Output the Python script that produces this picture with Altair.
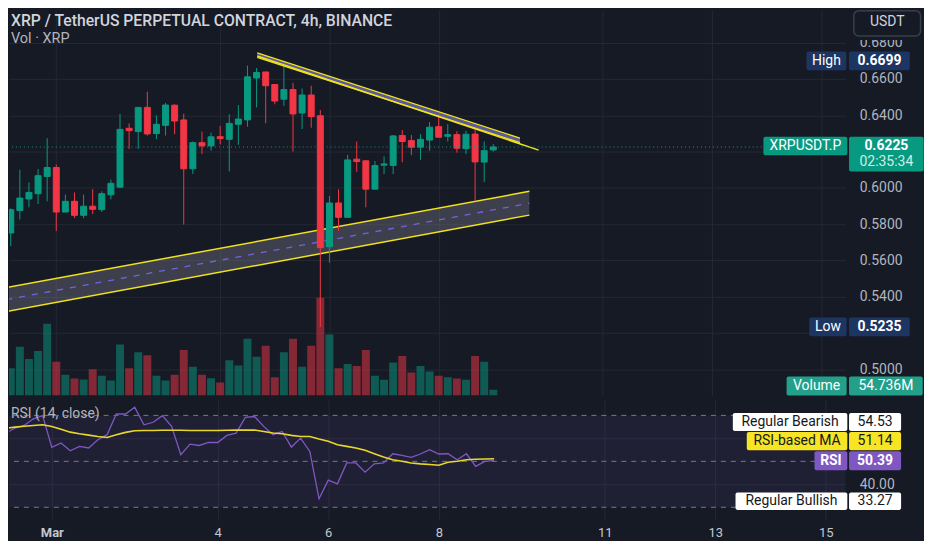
import altair as alt
import pandas as pd

BG = "#161a25"
GRID = "#242834"
GREEN = "#089981"
RED = "#f23645"
TXT = "#b2b5be"
YEL = "#f2e21c"
FONT = "Roboto"

# ---------------- data ----------------
times = pd.date_range("2024-02-29 04:00", periods=54, freq="4h").strftime("%Y-%m-%dT%H:%M:%SZ").tolist()

opens = [0.5752, 0.5875, 0.5939, 0.5968, 0.6063, 0.6112, 0.5867, 0.5926, 0.5849, 0.5899,
         0.5880, 0.5962, 0.6004, 0.6328, 0.6310, 0.6443, 0.6299, 0.6344, 0.6455, 0.6374,
         0.6105, 0.6249, 0.6231, 0.6282, 0.6267, 0.6350, 0.6374, 0.6605, 0.6638, 0.6569,
         0.6488, 0.6541, 0.6412, 0.6511, 0.6397, 0.5676, 0.5917, 0.5838, 0.6158, 0.6149,
         0.5993, 0.6125, 0.6123, 0.6288, 0.6260, 0.6224, 0.6263, 0.6337, 0.6284, 0.6293,
         0.6216, 0.6296, 0.6142, 0.6209]
highs = [0.5887, 0.6100, 0.6030, 0.6104, 0.6273, 0.6129, 0.5963, 0.5975, 0.5963, 0.5993,
         0.5981, 0.6045, 0.6407, 0.6355, 0.6443, 0.6529, 0.6399, 0.6468, 0.6460, 0.6408,
         0.6255, 0.6310, 0.6304, 0.6341, 0.6405, 0.6456, 0.6673, 0.6660, 0.6638, 0.6570,
         0.6699, 0.6578, 0.6547, 0.6562, 0.6428, 0.5956, 0.5992, 0.6182, 0.6255, 0.6153,
         0.6148, 0.6173, 0.6291, 0.6318, 0.6291, 0.6296, 0.6362, 0.6408, 0.6351, 0.6312,
         0.6315, 0.6321, 0.6255, 0.6241]
lows = [0.5679, 0.5826, 0.5893, 0.5911, 0.5926, 0.5762, 0.5867, 0.5834, 0.5833, 0.5856,
        0.5868, 0.5937, 0.5999, 0.6214, 0.6214, 0.6288, 0.6268, 0.6288, 0.6295, 0.5798,
        0.6076, 0.6186, 0.6205, 0.6240, 0.6090, 0.6237, 0.6337, 0.6443, 0.6355, 0.6460,
        0.6451, 0.6200, 0.6324, 0.6331, 0.5235, 0.5588, 0.5764, 0.5837, 0.6088, 0.5893,
        0.5992, 0.6076, 0.6076, 0.6141, 0.6180, 0.6154, 0.6204, 0.6277, 0.6255, 0.6194,
        0.6186, 0.5926, 0.6032, 0.6200]
closes = [0.5880, 0.5944, 0.5975, 0.6067, 0.6112, 0.5867, 0.5926, 0.5849, 0.5899, 0.5882,
          0.5968, 0.6025, 0.6322, 0.6315, 0.6443, 0.6297, 0.6350, 0.6456, 0.6368, 0.6105,
          0.6249, 0.6231, 0.6281, 0.6271, 0.6355, 0.6379, 0.6611, 0.6635, 0.6562, 0.6478,
          0.6541, 0.6407, 0.6511, 0.6392, 0.5671, 0.5917, 0.5838, 0.6154, 0.6145, 0.5993,
          0.6123, 0.6132, 0.6286, 0.6255, 0.6224, 0.6267, 0.6334, 0.6279, 0.6293, 0.6218,
          0.6295, 0.6143, 0.6205, 0.6225]
volumes_m = [262, 470, 352, 429, 691, 326, 199, 163, 154, 252,
             189, 144, 492, 262, 416, 387, 189, 144, 199, 439,
             276, 199, 166, 125, 339, 288, 547, 374, 480, 176,
             416, 547, 276, 480, 941, 588, 262, 304, 285, 439,
             189, 151, 317, 381, 221, 285, 230, 189, 176, 163,
             151, 381, 326, 54.736]
rsi = [62.3, 64.4, 65.6, 68.5, 69.9, 56.1, 58.0, 54.6, 56.5, 55.8,
       59.4, 61.6, 70.6, 70.6, 73.5, 65.9, 67.0, 69.9, 65.2, 52.9,
       57.5, 56.9, 58.2, 58.2, 61.3, 62.3, 69.1, 69.5, 65.2, 61.6,
       63.0, 56.2, 60.1, 54.3, 33.7, 41.8, 40.2, 49.3, 49.3, 45.3,
       48.9, 49.3, 53.3, 52.6, 51.7, 53.2, 55.1, 53.2, 53.3, 50.7,
       53.3, 47.8, 50.0, 50.39]
rsi_ma = [64.4, 64.9, 65.3, 65.6, 65.9, 65.2, 64.0, 62.7, 62.0, 61.4,
          60.8, 60.4, 61.6, 62.6, 63.3, 63.4, 63.4, 63.5, 63.5, 63.5,
          63.4, 63.4, 63.4, 63.4, 63.5, 63.6, 63.6, 63.6, 63.0, 62.3,
          62.0, 61.3, 60.8, 60.8, 59.7, 58.7, 57.2, 56.5, 55.8, 54.8,
          53.3, 51.9, 50.7, 50.0, 49.3, 48.9, 48.6, 48.3, 49.6, 50.0,
          50.7, 50.9, 51.0, 51.14]

# drawn trend channels (time, price)
low_ch_t = ["2024-02-29T02:03:00Z", "2024-03-09T15:50:00Z"]
low_ch_top = [0.5451, 0.5981]
low_ch_bot = [0.5319, 0.5850]
up_ch_t = ["2024-03-04T16:17:00Z", "2024-03-09T11:42:00Z"]
up_ch_top = [0.6743, 0.6274]
up_ch_bot = [0.6718, 0.6249]
up_line_t = ["2024-03-04T16:17:00Z", "2024-03-09T19:54:00Z"]
up_line_p = [0.6726, 0.6208]

div_names = ["Regular Bearish", "Regular Bullish"]
div_values = [54.53, 33.27]

tick_days = [1, 4, 6, 8, 11, 13, 15]
price_ticks = [0.50, 0.52, 0.54, 0.56, 0.58, 0.60, 0.62, 0.64, 0.66, 0.68]
rsi_ticks = [40, 60]
rsi_levels = [70, 50, 30]
countdown = "02:35:34"

# ---------------- frames ----------------
cdf = pd.DataFrame(dict(t=times, o=opens, h=highs, l=lows, c=closes, v=volumes_m, rsi=rsi, ma=rsi_ma))
cdf["dir"] = ["up" if c >= o else "down" for o, c in zip(opens, closes)]
low_ch = pd.DataFrame(dict(t=low_ch_t, top=low_ch_top, bot=low_ch_bot))
low_ch["mid"] = (low_ch["top"] + low_ch["bot"]) / 2
up_ch = pd.DataFrame(dict(t=up_ch_t, top=up_ch_top, bot=up_ch_bot))
up_ln = pd.DataFrame(dict(t=up_line_t, p=up_line_p))


def dt(mo, d, h=0, mi=0):
    return alt.DateTime(year=2024, month=mo, date=d, hours=h, minutes=mi, utc=True)


xs = alt.Scale(type="utc", domain=[dt(2, 29, 5, 25), dt(3, 15, 8, 28)])
ps = alt.Scale(domain=[0.48575, 0.69781], nice=False, zero=False)
vs = alt.Scale(domain=[0, 3715], nice=False, zero=False)
rs = alt.Scale(domain=[24.5, 76.93], nice=False, zero=False)
dir_scale = alt.Scale(domain=["up", "down"], range=[GREEN, RED])
day_values = [dt(3, d) for d in tick_days]

grid_axis = alt.Axis(values=day_values, labels=False, ticks=False, domain=False, grid=True,
                     gridColor=GRID, title=None)
# labels hidden behind the price tags (0.6200 and 0.5200) are left blank
price_axis = alt.Axis(orient="right", values=price_ticks, format=".4f", labelColor=TXT,
                      labelExpr="(datum.value == 0.62 || datum.value == 0.52) ? '' : datum.label",
                      labelFontSize=14, labelPadding=14, ticks=False, tickSize=0, domain=False,
                      grid=True, gridColor=GRID, title=None, labelOverlap=False)
x_axis = alt.Axis(values=day_values,
                  labelExpr="utcdate(datum.value) == 1 ? 'Mar' : '' + utcdate(datum.value)",
                  labelColor="#c4c7cf", labelFontSize=13, labelPadding=7, ticks=False, tickSize=0,
                  domain=False, grid=True, gridColor=GRID, title=None, labelFlush=False,
                  labelOverlap=False,
                  labelFontWeight={"condition": {"test": "utcdate(datum.value) == 1", "value": "bold"},
                                   "value": "normal"})
rsi_axis = alt.Axis(orient="right", values=rsi_ticks, format=".2f", labelColor=TXT, labelFontSize=14,
                    labelExpr="datum.value == 60 ? '' : datum.label",
                    labelPadding=14, ticks=False, tickSize=0, domain=False, grid=True, gridColor=GRID,
                    title=None)


def XM():
    return alt.X("t:T", scale=xs, axis=grid_axis, title=None)


def XR():
    return alt.X("t:T", scale=xs, axis=x_axis, title=None)


def YP(field):
    return alt.Y(field, scale=ps, axis=price_axis, title=None)


def YR(field):
    return alt.Y(field, scale=rs, axis=rsi_axis, title=None)


def tag(df, ey, name, nx, vx, fill, ncol, vcol, off=0.0, nbox=(-9.5, 9.5), vbox=(-9.5, 9.5),
        vweight="bold", nweight="normal"):
    out = []
    mid = off + (nbox[0] + nbox[1]) / 2
    if name:
        out.append(alt.Chart(df).mark_rect(fill=fill, cornerRadius=2, yOffset=off + nbox[0],
                                           y2Offset=off + nbox[1])
                   .encode(x=alt.value(nx[0]), x2=alt.value(nx[1]), y=ey, y2="val:Q"))
        out.append(alt.Chart(df).mark_text(text=name, color=ncol, fontSize=14, fontWeight=nweight,
                                           align="center", baseline="middle", yOffset=mid)
                   .encode(x=alt.value((nx[0] + nx[1]) / 2), y=ey))
    out.append(alt.Chart(df).mark_rect(fill=fill, cornerRadius=2, yOffset=off + vbox[0],
                                       y2Offset=off + vbox[1])
               .encode(x=alt.value(vx[0]), x2=alt.value(vx[1]), y=ey, y2="val:Q"))
    out.append(alt.Chart(df).mark_text(color=vcol, fontSize=14, fontWeight=vweight, align="center",
                                       baseline="middle", yOffset=mid)
               .encode(x=alt.value((vx[0] + vx[1]) / 2), y=ey, text="vt:N"))
    return out


# ---------------- main pane ----------------
wick = alt.Chart(cdf).mark_rule(clip=True, strokeWidth=1).encode(
    x=XM(), y=YP("h:Q"), y2="l:Q",
    color=alt.Color("dir:N", scale=dir_scale, legend=None))
body = alt.Chart(cdf).mark_bar(clip=True, size=6, strokeWidth=1).encode(
    x=XM(), y=YP("o:Q"), y2="c:Q",
    fill=alt.Fill("dir:N", scale=dir_scale, legend=None),
    stroke=alt.Stroke("dir:N", scale=dir_scale, legend=None))
vol = alt.Chart(cdf).mark_bar(clip=True, size=8, opacity=0.5).encode(
    x=XM(), y=alt.Y("v:Q", scale=vs, axis=None, title=None),
    color=alt.Color("dir:N", scale=dir_scale, legend=None))

cur = alt.Chart(cdf.iloc[[-1]]).mark_rule(color=GREEN, strokeDash=[1, 3], strokeWidth=1).encode(
    y=YP("c:Q"))

ch_area = alt.Chart(low_ch).mark_area(clip=True, color="#787b86", opacity=0.4).encode(
    x=XM(), y=YP("top:Q"), y2="bot:Q")
ch_top = alt.Chart(low_ch).mark_line(clip=True, color=YEL, strokeWidth=1.5).encode(
    x=XM(), y=YP("top:Q"))
ch_bot = alt.Chart(low_ch).mark_line(clip=True, color=YEL, strokeWidth=1.5).encode(
    x=XM(), y=YP("bot:Q"))
ch_mid = alt.Chart(low_ch).mark_line(clip=True, color="#7163e0", strokeWidth=1.3,
                                     strokeDash=[6, 7]).encode(x=XM(), y=YP("mid:Q"))

uc_area = alt.Chart(up_ch).mark_area(clip=True, color="#7070c0", opacity=0.75).encode(
    x=XM(), y=YP("top:Q"), y2="bot:Q")
uc_top = alt.Chart(up_ch).mark_line(clip=True, color=YEL, strokeWidth=1.3).encode(
    x=XM(), y=YP("top:Q"))
uc_bot = alt.Chart(up_ch).mark_line(clip=True, color=YEL, strokeWidth=1.3).encode(
    x=XM(), y=YP("bot:Q"))
uc_line = alt.Chart(up_ln).mark_line(clip=True, color=YEL, strokeWidth=1.5).encode(
    x=XM(), y=YP("p:Q"))

title_df = pd.DataFrame({"s": ["XRP / TetherUS PERPETUAL CONTRACT, 4h, BINANCE"]})
sub_df = pd.DataFrame({"s": ["Vol · XRP"]})
title_t = alt.Chart(title_df).mark_text(align="left", baseline="middle", fontSize=15.8, fontWeight=500,
                                        color="#d1d4dc").encode(x=alt.value(2), y=alt.value(10.5), text="s:N")
sub_t = alt.Chart(sub_df).mark_text(align="left", baseline="middle", fontSize=14.5,
                                    color=TXT).encode(x=alt.value(2), y=alt.value(29), text="s:N")
usdt_df = pd.DataFrame({"s": ["USDT"]})
top_cover = alt.Chart(usdt_df).mark_rect(fill=BG).encode(
    x=alt.value(842), x2=alt.value(916), y=alt.value(0), y2=alt.value(30))
usdt_box = alt.Chart(usdt_df).mark_rect(fill=BG, stroke="#3a3e4a", strokeWidth=1.5, cornerRadius=5).encode(
    x=alt.value(848.5), x2=alt.value(915.5), y=alt.value(0.5), y2=alt.value(26))
usdt_txt = alt.Chart(usdt_df).mark_text(fontSize=14, color="#d1d4dc", align="center",
                                        baseline="middle").encode(x=alt.value(882), y=alt.value(12), text="s:N")

high_df = pd.DataFrame({"val": [max(highs)], "vt": [f"{max(highs):.4f}"]})
low_df = pd.DataFrame({"val": [min(lows)], "vt": [f"{min(lows):.4f}"]})
cur_df = pd.DataFrame({"val": [closes[-1]], "vt": [f"{closes[-1]:.4f}"]})
cnt_df = pd.DataFrame({"val": [closes[-1]], "vt": [countdown]})
vol_df = pd.DataFrame({"val": [volumes_m[-1]], "vt": [f"{volumes_m[-1]:.3f}M"]})

NAVY = "#1c3563"
tags_main = []
tags_main += tag(high_df, YP("val:Q"), "High", (801, 841), (843.7, 904.7), NAVY, "#ffffff", "#ffffff")
tags_main += tag(low_df, YP("val:Q"), "Low", (803.7, 841.3), (843.7, 904.7), NAVY, "#ffffff", "#ffffff")
tags_main += tag(cur_df, YP("val:Q"), "XRPUSDT.P", (757.7, 842), (843.7, 918.7), GREEN, "#ffffff", "#ffffff",
                 nbox=(-10.4, 8.4), vbox=(-10.4, 24.6))
cnt_txt = alt.Chart(cnt_df).mark_text(color="#cdeee6", fontSize=14, align="center", baseline="middle",
                                      yOffset=15.5).encode(
    x=alt.value(881.2), y=YP("val:Q"), text="vt:N")
tags_vol = tag(vol_df, alt.Y("val:Q", scale=vs, axis=None, title=None), "Volume", (781, 841.3),
               (843.7, 917.7), "#22a08a", "#ffffff", "#ffffff", off=-3.8, vweight="normal")

price_group = alt.layer(ch_area, ch_mid, ch_top, ch_bot, wick, body, uc_area, uc_top, uc_bot, uc_line,
                        cur, title_t, sub_t, top_cover, usdt_box, usdt_txt, *tags_main, cnt_txt)
vol_group = alt.layer(vol, *tags_vol)
main = alt.layer(vol_group, price_group).resolve_scale(y="independent").properties(width=840, height=387)

# ---------------- RSI pane ----------------
band = alt.Chart(pd.DataFrame({"a": [rsi_levels[0]], "b": [rsi_levels[2]]})).mark_rect(
    color="#7e57c2", opacity=0.1).encode(y=YR("a:Q"), y2="b:Q")
dashes = alt.Chart(pd.DataFrame({"lvl": rsi_levels})).mark_rule(
    color="#787b86", strokeDash=[5, 5], strokeWidth=1).encode(y=YR("lvl:Q"))
rsi_line = alt.Chart(cdf).mark_line(clip=True, color="#7e57c2", strokeWidth=1.3).encode(
    x=XR(), y=YR("rsi:Q"))
ma_line = alt.Chart(cdf).mark_line(clip=True, color="#e9d82a", strokeWidth=1.6).encode(
    x=XR(), y=YR("ma:Q"))
rsi_title = alt.Chart(pd.DataFrame({"s": ["RSI (14, close)"]})).mark_text(
    align="left", baseline="middle", fontSize=14, color=TXT).encode(
    x=alt.value(2), y=alt.value(15), text="s:N")

bear_df = pd.DataFrame({"val": [div_values[0]], "vt": [f"{div_values[0]:.2f}"]})
bull_df = pd.DataFrame({"val": [div_values[1]], "vt": [f"{div_values[1]:.2f}"]})
ma_df = pd.DataFrame({"val": [rsi_ma[-1]], "vt": [f"{rsi_ma[-1]:.2f}"]})
rv_df = pd.DataFrame({"val": [rsi[-1]], "vt": [f"{rsi[-1]:.2f}"]})
DARK = "#131722"
tags_rsi = []
tags_rsi += tag(bear_df, YR("val:Q"), div_names[0], (727, 842), (843.7, 896), "#ffffff", DARK, DARK,
                off=-29, nbox=(-9, 9), vbox=(-9, 9), vweight="normal")
tags_rsi += tag(ma_df, YR("val:Q"), "RSI-based MA", (741, 842), (843.7, 896), "#f7e424", DARK, DARK,
                off=-17.7, nbox=(-9.2, 9.2), vbox=(-9.2, 9.2), vweight="normal")
tags_rsi += tag(rv_df, YR("val:Q"), "RSI", (809, 842), (843.7, 896), "#7e57c2", "#ffffff", "#ffffff",
                off=0.25, nbox=(-9.5, 9.5), vbox=(-9.5, 9.5), nweight="bold")
tags_rsi += tag(bull_df, YR("val:Q"), div_names[1], (729.7, 842), (843.7, 896), "#ffffff", DARK, DARK,
                off=1.5, nbox=(-8.7, 8.7), vbox=(-8.7, 8.7), vweight="normal")

rsi_chart = alt.layer(band, dashes, rsi_line, ma_line, rsi_title, *tags_rsi).properties(width=840, height=121)

chart = (alt.vconcat(main, rsi_chart, spacing=4)
         .properties(padding=0, background=BG)
         .configure_view(stroke=None)
         .configure_axis(labelFont=FONT)
         .configure_text(font=FONT))

chart.save("out.html", embed_options={"renderer": "svg", "actions": False})
